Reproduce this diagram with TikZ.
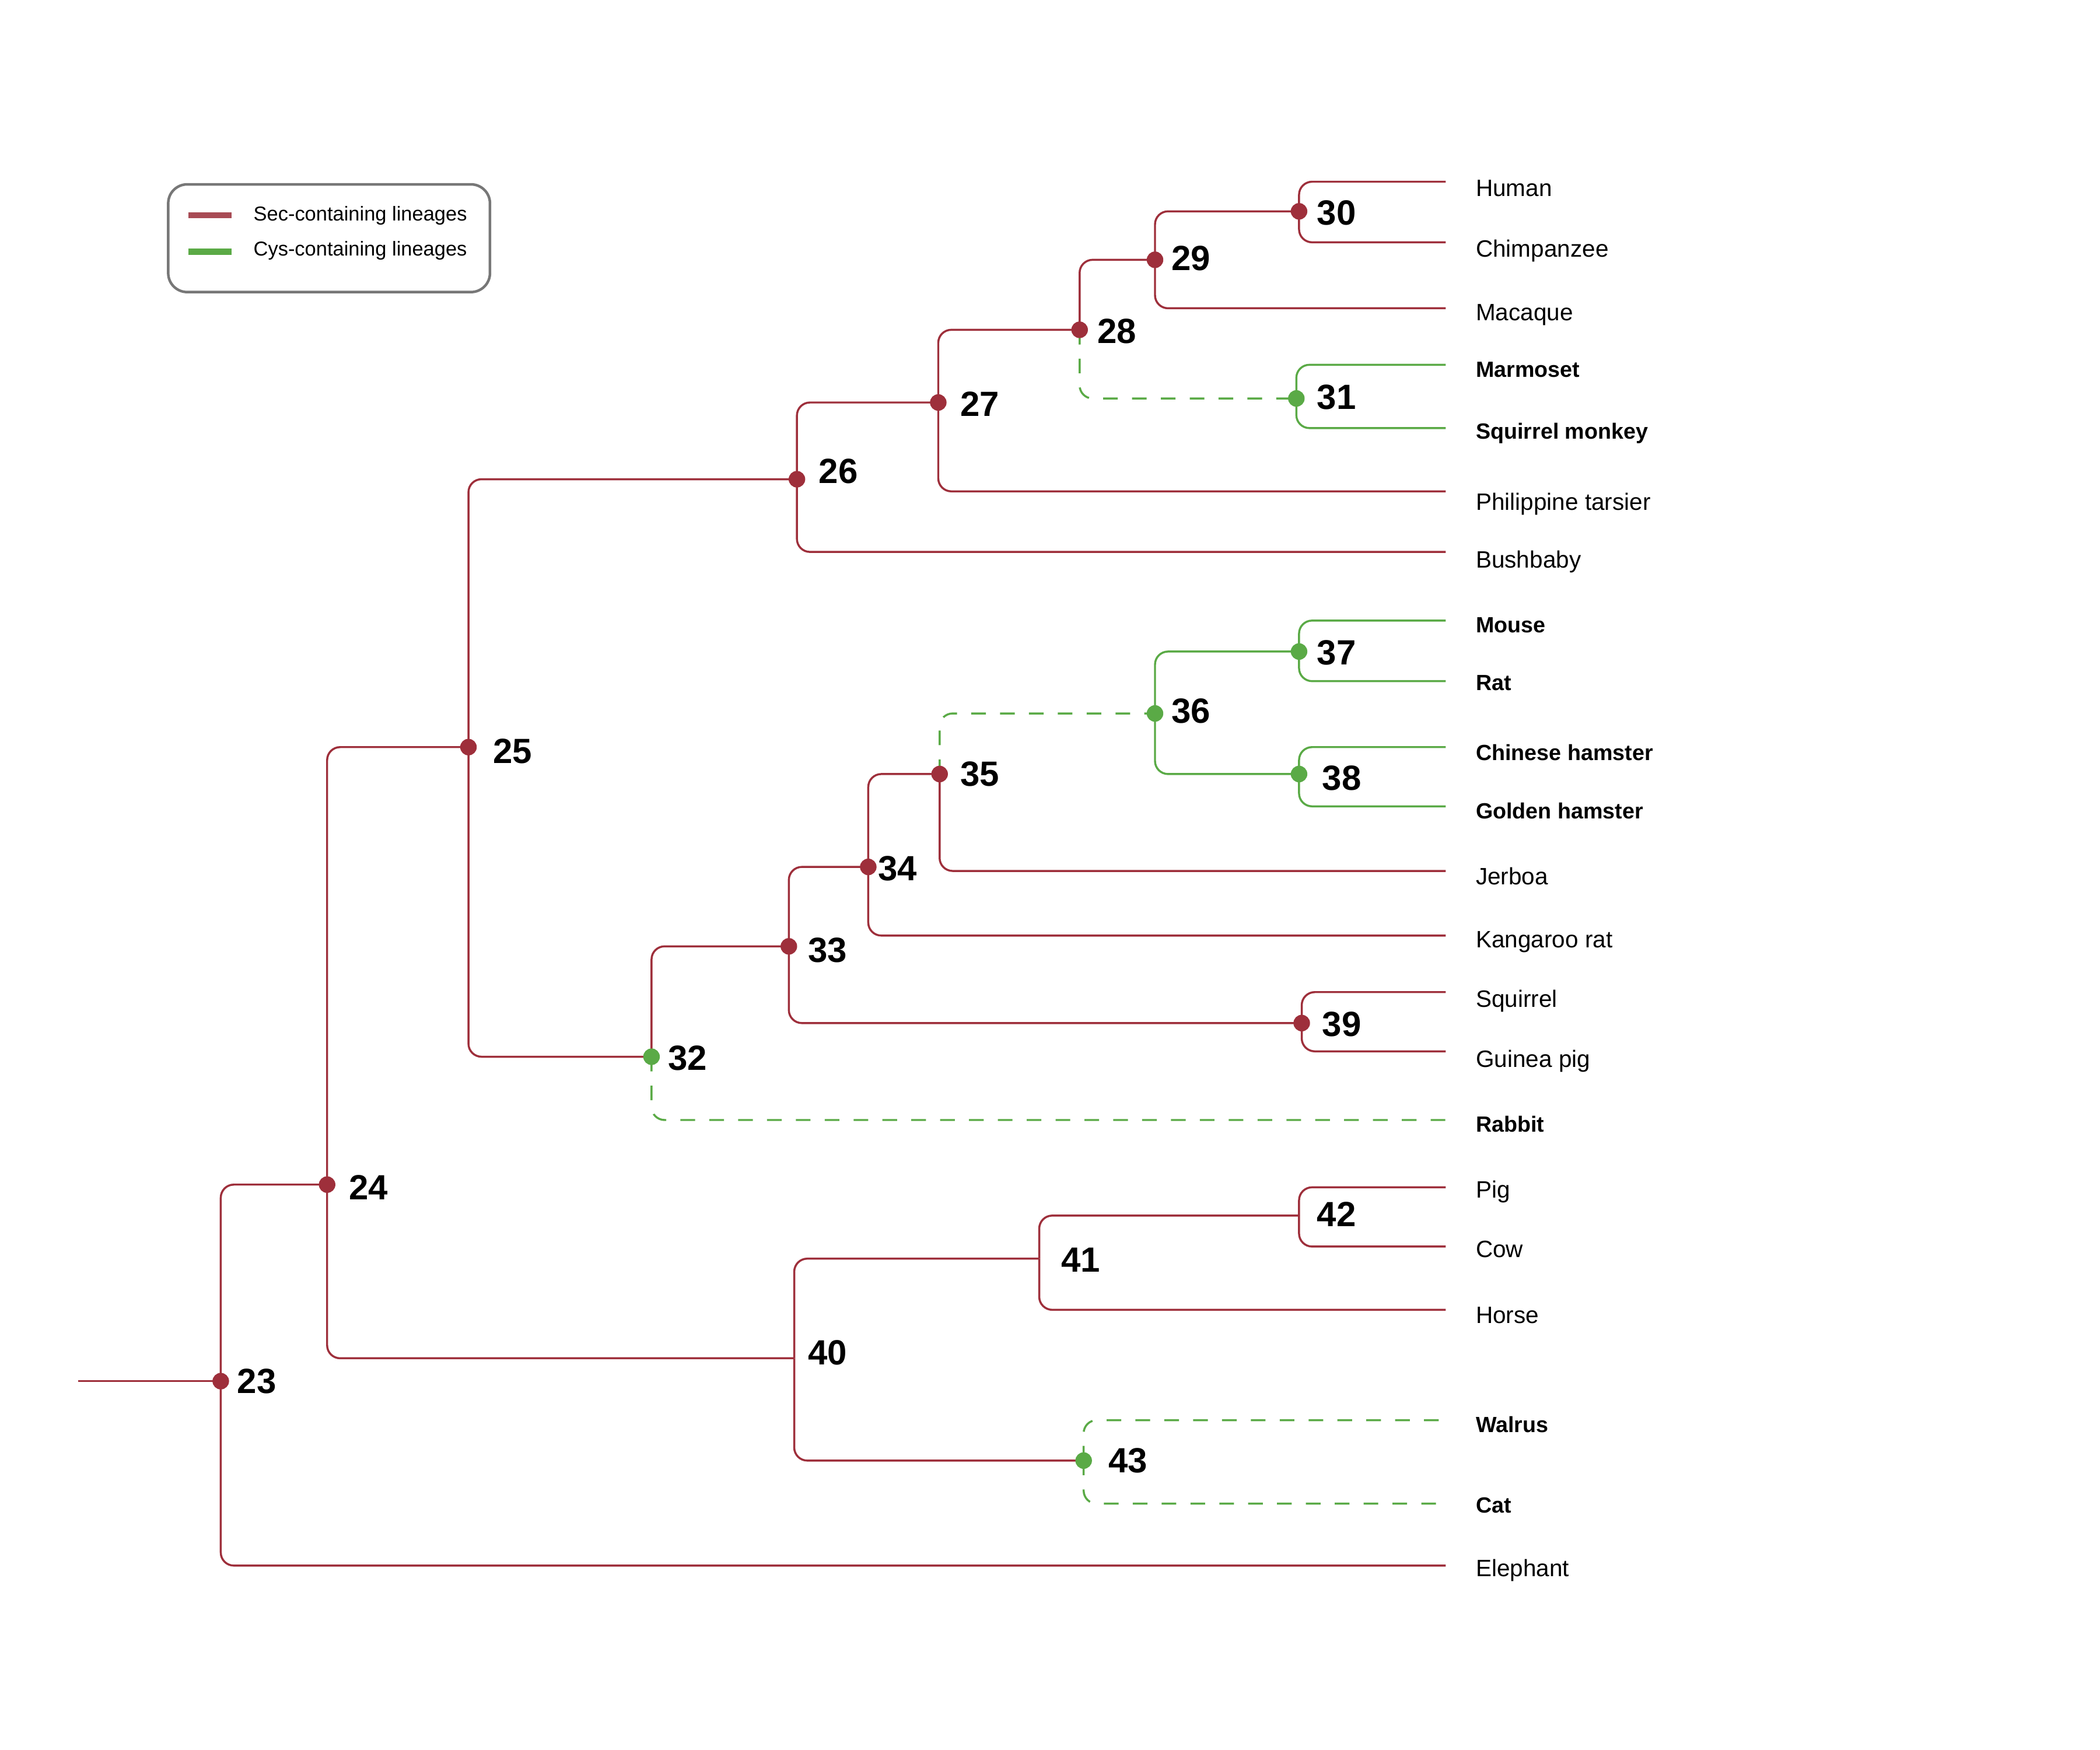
\documentclass[tikz,border=0pt]{standalone}
\usepackage{fontspec}
\setmainfont{Liberation Sans}
\definecolor{secred}{HTML}{9E2F3B}
\definecolor{cysgreen}{HTML}{5AAA46}
\definecolor{legred}{HTML}{A84B55}
\definecolor{leggreen}{HTML}{5BAA46}
\definecolor{legborder}{HTML}{777777}
\tikzset{
  sec/.style={draw=secred, line width=0.85pt, rounded corners=5.5pt},
  cys/.style={draw=cysgreen, line width=0.85pt, rounded corners=5.5pt},
  cysdash/.style={cys, dash pattern=on 6.2pt off 6pt},
  secdot/.style={circle, fill=secred, inner sep=0pt, minimum size=7pt},
  cysdot/.style={circle, fill=cysgreen, inner sep=0pt, minimum size=7pt},
  num/.style={anchor=west, inner sep=0pt, font=\fontsize{14.8}{16}\selectfont\bfseries},
  taxon/.style={anchor=base west, inner sep=0pt, font=\fontsize{10}{12}\selectfont},
  taxonb/.style={anchor=base west, inner sep=0pt, font=\fontsize{9.3}{12}\selectfont\bfseries},
  legtext/.style={anchor=base west, inner sep=0pt, font=\fontsize{8.5}{10}\selectfont},
}
\begin{document}
\begin{tikzpicture}[x=0.02cm, y=-0.02cm]
\useasboundingbox (0,0) rectangle (1560,1300);

% legend
\node[draw=legborder, line width=1.1pt, rounded corners=8pt, minimum width=239*0.02cm, minimum height=80*0.02cm, anchor=north west, inner sep=0pt] (legend) at (124,136) {};
\coordinate (lr1) at (140,160); \coordinate (lr2) at (172,160);
\coordinate (lg1) at (140,187); \coordinate (lg2) at (172,187);
\draw[legred, line width=2.5pt] (lr1) -- (lr2);
\draw[leggreen, line width=2.5pt] (lg1) -- (lg2);
\node[legtext] (legsec) at (188,164) {Sec-containing lineages};
\node[legtext] (legcys) at (188,190) {Cys-containing lineages};

% internal node positions
\coordinate (root) at (58,1026);
\coordinate (n23) at (164,1026);
\coordinate (n24) at (243,880);
\coordinate (n25) at (348,555);
\coordinate (n26) at (592,356);
\coordinate (n27) at (697,299);
\coordinate (n28) at (802,245);
\coordinate (n29) at (858,193);
\coordinate (n30) at (965,157);
\coordinate (n31) at (963,296);
\coordinate (n32) at (484,785);
\coordinate (n33) at (586,703);
\coordinate (n34) at (645,644);
\coordinate (n35) at (698,575);
\coordinate (n36) at (858,530);
\coordinate (n37) at (965,484);
\coordinate (n38) at (965,575);
\coordinate (n39) at (967,760);
\coordinate (n40) at (590,1009);
\coordinate (n41) at (772,935);
\coordinate (n42) at (965,903);
\coordinate (n43) at (805,1085);

% leaf ends
\coordinate (human) at (1074,135);
\coordinate (chimp) at (1074,180);
\coordinate (macaque) at (1074,229);
\coordinate (marmoset) at (1074,271);
\coordinate (sqmonkey) at (1074,318);
\coordinate (tarsier) at (1074,365);
\coordinate (bushbaby) at (1074,410);
\coordinate (mouse) at (1074,461);
\coordinate (rat) at (1074,506);
\coordinate (chham) at (1074,555);
\coordinate (goham) at (1074,599);
\coordinate (jerboa) at (1074,647);
\coordinate (kangaroo) at (1074,695);
\coordinate (squirrel) at (1074,737);
\coordinate (guinea) at (1074,781);
\coordinate (rabbit) at (1074,832);
\coordinate (pig) at (1074,882);
\coordinate (cow) at (1074,926);
\coordinate (horse) at (1074,973);
\coordinate (walrus) at (1074,1055);
\coordinate (cat) at (1074,1117);
\coordinate (elephant) at (1074,1163);

% Sec lineages
\draw[sec] (root) -- (n23);
\draw[sec] (n23) |- (n24);
\draw[sec] (n23) |- (elephant);
\draw[sec] (n24) |- (n25);
\draw[sec] (n24) |- (n40);
\draw[sec] (n25) |- (n26);
\draw[sec] (n25) |- (n32);
\draw[sec] (n26) |- (n27);
\draw[sec] (n26) |- (bushbaby);
\draw[sec] (n27) |- (n28);
\draw[sec] (n27) |- (tarsier);
\draw[sec] (n28) |- (n29);
\draw[sec] (n29) |- (n30);
\draw[sec] (n29) |- (macaque);
\draw[sec] (n30) |- (human);
\draw[sec] (n30) |- (chimp);
\draw[sec] (n32) |- (n33);
\draw[sec] (n33) |- (n34);
\draw[sec] (n33) |- (n39);
\draw[sec] (n34) |- (n35);
\draw[sec] (n34) |- (kangaroo);
\draw[sec] (n35) |- (jerboa);
\draw[sec] (n39) |- (squirrel);
\draw[sec] (n39) |- (guinea);
\draw[sec] (n40) |- (n41);
\draw[sec] (n40) |- (n43);
\draw[sec] (n41) |- (n42);
\draw[sec] (n41) |- (horse);
\draw[sec] (n42) |- (pig);
\draw[sec] (n42) |- (cow);

% Cys lineages
\draw[cysdash] (n28) |- (n31);
\draw[cys] (n31) |- (marmoset);
\draw[cys] (n31) |- (sqmonkey);
\draw[cysdash] (n32) |- (rabbit);
\draw[cysdash] (n35) |- (n36);
\draw[cys] (n36) |- (n37);
\draw[cys] (n36) |- (n38);
\draw[cys] (n37) |- (mouse);
\draw[cys] (n37) |- (rat);
\draw[cys] (n38) |- (chham);
\draw[cys] (n38) |- (goham);
\draw[cysdash] (n43) |- (walrus);
\draw[cysdash] (n43) |- (cat);

% dots
\foreach \n in {23,24,25,26,27,28,29,30,33,34,35,39} {\node[secdot] (d\n) at (n\n) {};}
\foreach \n in {31,32,36,37,38,43} {\node[cysdot] (d\n) at (n\n) {};}

% node numbers
\node[num] (l23) at (176,1026) {23};
\node[num] (l24) at (259,882) {24};
\node[num] (l25) at (366,558) {25};
\node[num] (l26) at (608,350) {26};
\node[num] (l27) at (713,300) {27};
\node[num] (l28) at (815,246) {28};
\node[num] (l29) at (870,192) {29};
\node[num] (l30) at (978,158) {30};
\node[num] (l31) at (978,295) {31};
\node[num] (l32) at (496,786) {32};
\node[num] (l33) at (600,706) {33};
\node[num] (l34) at (652,645) {34};
\node[num] (l35) at (713,575) {35};
\node[num] (l36) at (870,528) {36};
\node[num] (l37) at (978,485) {37};
\node[num] (l38) at (982,578) {38};
\node[num] (l39) at (982,761) {39};
\node[num] (l40) at (600,1005) {40};
\node[num] (l41) at (788,936) {41};
\node[num] (l42) at (978,902) {42};
\node[num] (l43) at (823,1085) {43};

% taxon labels
\node[taxon]  (t1) at (1096,146) {Human};
\node[taxon]  (t2) at (1096,191) {Chimpanzee};
\node[taxon]  (t3) at (1096,238) {Macaque};
\node[taxonb] (t4) at (1096,280) {Marmoset};
\node[taxonb] (t5) at (1096,326) {Squirrel monkey};
\node[taxon]  (t6) at (1096,379) {Philippine tarsier};
\node[taxon]  (t7) at (1096,422) {Bushbaby};
\node[taxonb] (t8) at (1096,470) {Mouse};
\node[taxonb] (t9) at (1096,513) {Rat};
\node[taxonb] (t10) at (1096,565) {Chinese hamster};
\node[taxonb] (t11) at (1096,608) {Golden hamster};
\node[taxon]  (t12) at (1096,657) {Jerboa};
\node[taxon]  (t13) at (1096,704) {Kangaroo rat};
\node[taxon]  (t14) at (1096,748) {Squirrel};
\node[taxon]  (t15) at (1096,793) {Guinea pig};
\node[taxonb] (t16) at (1096,841) {Rabbit};
\node[taxon]  (t17) at (1096,890) {Pig};
\node[taxon]  (t18) at (1096,934) {Cow};
\node[taxon]  (t19) at (1096,983) {Horse};
\node[taxonb] (t20) at (1096,1064) {Walrus};
\node[taxonb] (t21) at (1096,1124) {Cat};
\node[taxon]  (t22) at (1096,1171) {Elephant};
\end{tikzpicture}
\end{document}
